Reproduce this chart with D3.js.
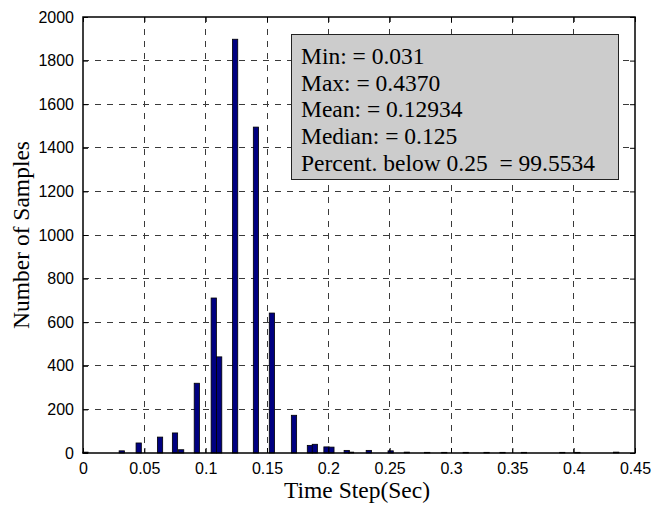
<!DOCTYPE html>
<html>
<head>
<meta charset="utf-8">
<script src="https://cdn.jsdelivr.net/npm/d3@7"></script>
<style>
  html, body { margin: 0; padding: 0; background: #fff; }
  svg { display: block; }
</style>
</head>
<body>
<script>
// ---- data ----
const binCenters = [0.002, 0.0316, 0.0454, 0.0628, 0.0750, 0.0800, 0.0928, 0.1066, 0.1110,
  0.1240, 0.1410, 0.1540, 0.1720, 0.1850, 0.1890, 0.1985, 0.2025, 0.2150, 0.2185, 0.2330,
  0.2508, 0.2640, 0.2806, 0.2945, 0.3120, 0.3290, 0.3420, 0.3595, 0.3907, 0.4030, 0.4347];
const counts = [4, 10, 46, 73, 92, 15, 320, 711, 441,
  1898, 1495, 642, 173, 35, 40, 28, 27, 12, 4, 12,
  10, 4, 3, 3, 3, 3, 3, 3, 3, 3, 4];
const xTickValues = [0, 0.05, 0.1, 0.15, 0.2, 0.25, 0.3, 0.35, 0.4, 0.45];
const xTickLabels = ["0", "0.05", "0.1", "0.15", "0.2", "0.25", "0.3", "0.35", "0.4", "0.45"];
const yTickValues = [0, 200, 400, 600, 800, 1000, 1200, 1400, 1600, 1800, 2000];
const statsLines = ["Min: = 0.031", "Max: = 0.4370", "Mean: = 0.12934", "Median: = 0.125",
  "Percent. below 0.25  = 99.5534"];
const xLabel = "Time Step(Sec)";
const yLabel = "Number of Samples";

// ---- layout ----
const W = 665, H = 506;
const margin = { left: 83, right: 30, top: 17, bottom: 53 };
const pw = W - margin.left - margin.right;
const ph = H - margin.top - margin.bottom;
const barW = 0.0043;

const svg = d3.select("body").append("svg").attr("width", W).attr("height", H);
const g = svg.append("g").attr("transform", `translate(${margin.left},${margin.top})`);

const x = d3.scaleLinear().domain([0, 0.45]).range([0, pw]);
const y = d3.scaleLinear().domain([0, 2000]).range([ph, 0]);

// grid
const gridColor = "#3a3a3a";
g.append("g").selectAll("line").data(xTickValues.slice(1, -1)).join("line")
  .attr("x1", d => x(d)).attr("x2", d => x(d)).attr("y1", 0).attr("y2", ph)
  .attr("stroke", gridColor).attr("stroke-width", 1).attr("stroke-dasharray", "6,6")
  .attr("shape-rendering", "crispEdges");
g.append("g").selectAll("line").data(yTickValues.slice(1, -1)).join("line")
  .attr("y1", d => y(d)).attr("y2", d => y(d)).attr("x1", 0).attr("x2", pw)
  .attr("stroke", gridColor).attr("stroke-width", 1).attr("stroke-dasharray", "6,6")
  .attr("shape-rendering", "crispEdges");

// bars
const data = binCenters.map((c, i) => ({ c, v: counts[i] }));
g.append("g").selectAll("rect").data(data).join("rect")
  .attr("x", d => x(d.c - barW / 2))
  .attr("width", d => x(d.c + barW / 2) - x(d.c - barW / 2))
  .attr("y", d => y(d.v))
  .attr("height", d => ph - y(d.v))
  .attr("fill", "#000080").attr("stroke", "#000").attr("stroke-width", 0.8);

// axes
const tickFont = "'Liberation Sans', Arial, sans-serif";
const xAxis = d3.axisBottom(x).tickValues(xTickValues)
  .tickFormat((d, i) => xTickLabels[i]).tickSizeInner(-5).tickSizeOuter(0).tickPadding(10);
const yAxis = d3.axisLeft(y).tickValues(yTickValues)
  .tickFormat(d3.format("d")).tickSizeInner(-5).tickSizeOuter(0).tickPadding(9);
const xa = g.append("g").attr("transform", `translate(0,${ph})`).call(xAxis);
const ya = g.append("g").call(yAxis);
const xTop = g.append("g").call(d3.axisTop(x).tickValues(xTickValues).tickFormat("").tickSizeInner(-5).tickSizeOuter(0));
const yRight = g.append("g").attr("transform", `translate(${pw},0)`).call(d3.axisRight(y).tickValues(yTickValues).tickFormat("").tickSizeInner(-5).tickSizeOuter(0));
[xa, ya, xTop, yRight].forEach(a => {
  a.select(".domain").remove();
  a.selectAll("line").attr("stroke", "#000");
  a.selectAll("text").attr("font-family", tickFont).attr("font-size", 16).attr("fill", "#000");
});

// box
g.append("rect").attr("x", 0).attr("y", 0).attr("width", pw).attr("height", ph)
  .attr("fill", "none").attr("stroke", "#000").attr("stroke-width", 1.5);

// axis labels
const serif = "'Liberation Serif', 'Times New Roman', serif";
svg.append("text").attr("x", margin.left + pw / 2 - 2).attr("y", 498)
  .attr("text-anchor", "middle").attr("font-family", serif).attr("font-size", 23.5)
  .text(xLabel);
svg.append("text").attr("transform", `translate(29,${margin.top + ph / 2}) rotate(-90)`)
  .attr("text-anchor", "middle").attr("font-family", serif).attr("font-size", 23.5)
  .text(yLabel);

// stats box
const box = svg.append("g");
box.append("rect").attr("x", 291.5).attr("y", 34.5).attr("width", 327).attr("height", 145)
  .attr("fill", "#cccccc").attr("stroke", "#222").attr("stroke-width", 1);
box.selectAll("text").data(statsLines).join("text")
  .attr("x", 301).attr("y", (d, i) => 64 + i * 26.7)
  .attr("font-family", serif).attr("font-size", 23.5)
  .style("white-space", "pre").attr("xml:space", "preserve")
  .text(d => d);
</script>
</body>
</html>
